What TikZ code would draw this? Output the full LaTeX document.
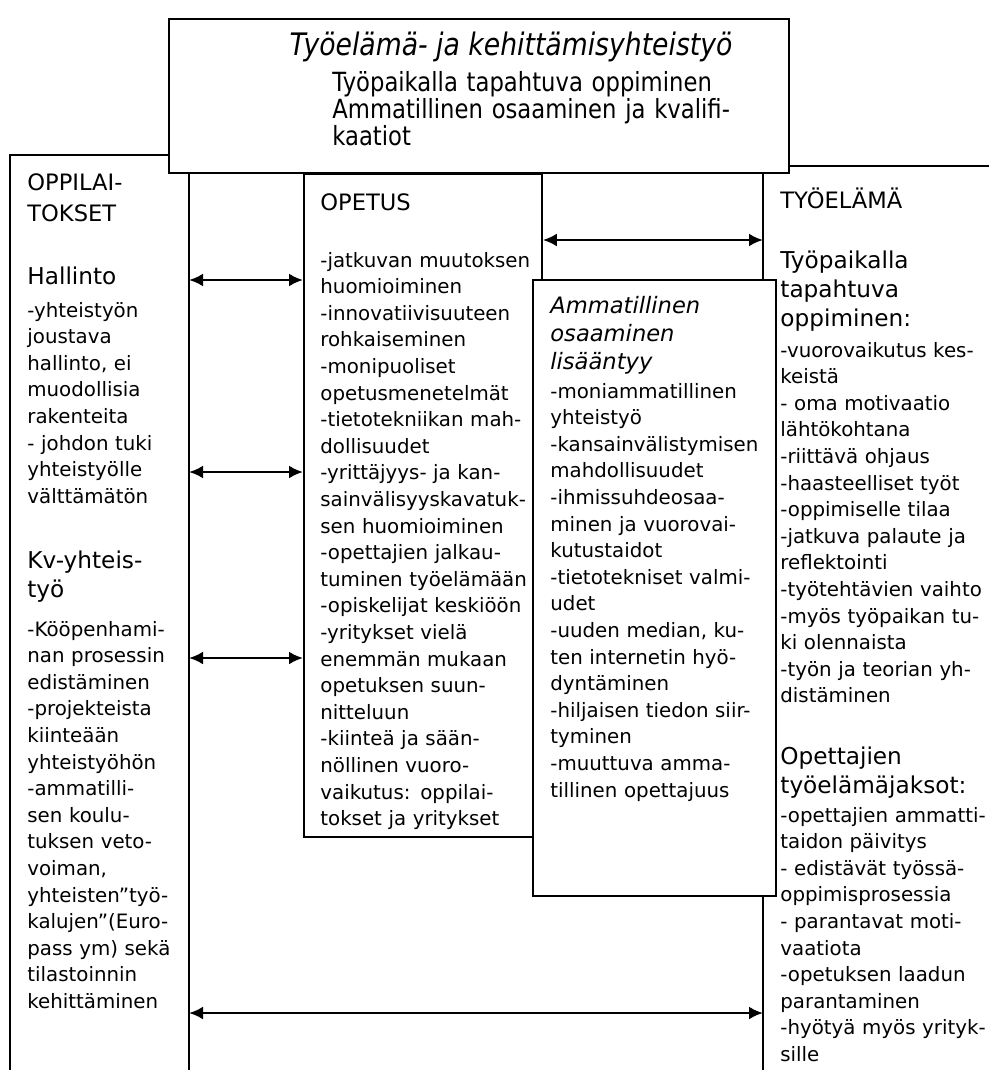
\documentclass[tikz,border=0pt]{standalone}
\usepackage{fontspec}
\setmainfont{DejaVu Sans}
\newfontfamily\narrowsans[FakeStretch=0.86]{DejaVu Sans}
\usetikzlibrary{arrows.meta}

\begin{document}
\begin{tikzpicture}[x=0.5pt,y=-0.5pt,
  frame/.style={line width=0.9pt, draw=black},
  panel/.style={frame, fill=white, inner sep=0pt, anchor=north west},
  txt/.style={anchor=base west, inner sep=0pt, text width=140pt, align=left,
    font=\fontsize{9.9}{13.3}\selectfont},
  caps/.style={txt, font=\fontsize{11.3}{15.5}\selectfont},
  head/.style={txt, font=\fontsize{11.6}{14.5}\selectfont},
  link/.style={line width=1.3pt,
    {Latex[length=7pt,width=6.5pt]}-{Latex[length=7pt,width=6.5pt]}},
]
\useasboundingbox (0,0) rectangle (989,1070);
\fill[white] (0,0) rectangle (989,1070);

% column guide lines
\coordinate (lcorner) at (10,155);
\coordinate (lbottom) at (10,1072);
\coordinate (lcolT) at (189,172);
\coordinate (lcolB) at (189,1072);
\coordinate (rcolT) at (763,172);
\coordinate (rcolB) at (763,1072);
\coordinate (rline) at (992,166);

% top heading box
\node[panel, minimum width=310pt, minimum height=77pt] (top) at (168,18) {};

\draw[frame] (lbottom) -- (lcorner) -- (top.west |- lcorner);
\draw[frame] (lcolT) -- (lcolB);
\draw[frame] (top.east |- rline) -- (rline);
\draw[frame] (rcolT) -- (rcolB);

% teaching box
\node[panel, minimum width=119pt, minimum height=331.5pt] (opetus) at (303,173) {};

% connectors
\coordinate (ya) at (0,240);
\coordinate (y1) at (0,280);
\coordinate (y2) at (0,472);
\coordinate (y3) at (0,658);
\coordinate (yb) at (0,1013);
\draw[link] (lcolT |- y1) -- (opetus.west |- y1);
\draw[link] (lcolT |- y2) -- (opetus.west |- y2);
\draw[link] (lcolT |- y3) -- (opetus.west |- y3);
\draw[link] (opetus.east |- ya) -- (rcolT |- ya);
\draw[link] (lcolT |- yb) -- (rcolT |- yb);

% competence box, lying over the teaching box
\node[panel, minimum width=121.5pt, minimum height=308pt] (amm) at (532,279) {};

% top box text
\node[anchor=base, inner sep=0pt, font=\narrowsans\itshape\fontsize{15.5}{18}\selectfont]
  (title) at (511,56) {Työelämä- ja kehittämisyhteistyö};
\node[txt, text width=250pt, font=\narrowsans\fontsize{13.2}{13.5}\selectfont]
  (toptxt) at (332,91) {Työpaikalla tapahtuva oppiminen\\Ammatillinen osaaminen ja kvalifi-\\kaatiot};

% left column
\node[caps] (oppihd) at (27,190) {OPPILAI-\\TOKSET};
\node[head] (hallhd) at (27,284) {Hallinto};
\node[txt] (halltxt) at (27,317) {-yhteistyön\\joustava\\hallinto, ei\\muodollisia\\rakenteita\\- johdon tuki\\yhteistyölle\\välttämätön};
\node[head] (kvhd) at (27,568) {Kv-yhteis-\\työ};
\node[txt] (kvtxt) at (27,636) {-Kööpenhami-\\nan prosessin\\edistäminen\\-projekteista\\kiinteään\\yhteistyöhön\\-ammatilli-\\sen koulu-\\tuksen veto-\\voiman,\\yhteisten”työ-\\kalujen”(Euro-\\pass ym) sekä\\tilastoinnin\\kehittäminen};

% teaching column
\node[caps] (opehd) at (320,210) {OPETUS};
\node[txt] (opetxt) at (320,267) {-jatkuvan muutoksen\\huomioiminen\\-innovatiivisuuteen\\rohkaiseminen\\-monipuoliset\\opetusmenetelmät\\-tietotekniikan mah-\\dollisuudet\\-yrittäjyys- ja kan-\\sainvälisyyskavatuk-\\sen huomioiminen\\-opettajien jalkau-\\tuminen työelämään\\-opiskelijat keskiöön\\-yritykset vielä\\enemmän mukaan\\opetuksen suun-\\nitteluun\\-kiinteä ja sään-\\nöllinen vuoro-\\vaikutus: oppilai-\\tokset ja yritykset};

% competence column
\node[txt, font=\itshape\fontsize{11.3}{14}\selectfont] (ammhd) at (550,313) {Ammatillinen\\osaaminen\\lisääntyy};
\node[txt] (ammtxt) at (550,398) {-moniammatillinen\\yhteistyö\\-kansainvälistymisen\\mahdollisuudet\\-ihmissuhdeosaa-\\minen ja vuorovai-\\kutustaidot\\-tietotekniset valmi-\\udet\\-uuden median, ku-\\ten internetin hyö-\\dyntäminen\\-hiljaisen tiedon siir-\\tyminen\\-muuttuva amma-\\tillinen opettajuus};

% working life column
\node[caps] (tyohd) at (780,208) {TYÖELÄMÄ};
\node[head] (tpohd) at (780,268) {Työpaikalla\\tapahtuva\\oppiminen:};
\node[txt] (tpotxt) at (780,357) {-vuorovaikutus kes-\\keistä\\- oma motivaatio\\lähtökohtana\\-riittävä ohjaus\\-haasteelliset työt\\-oppimiselle tilaa\\-jatkuva palaute ja\\reflektointi\\-työtehtävien vaihto\\-myös työpaikan tu-\\ki olennaista\\-työn ja teorian yh-\\distäminen};
\node[head] (opjhd) at (780,764) {Opettajien\\työelämäjaksot:};
\node[txt] (opjtxt) at (780,822) {-opettajien ammatti-\\taidon päivitys\\- edistävät työssä-\\oppimisprosessia\\- parantavat moti-\\vaatiota\\-opetuksen laadun\\parantaminen\\-hyötyä myös yrityk-\\sille};
\end{tikzpicture}
\end{document}
